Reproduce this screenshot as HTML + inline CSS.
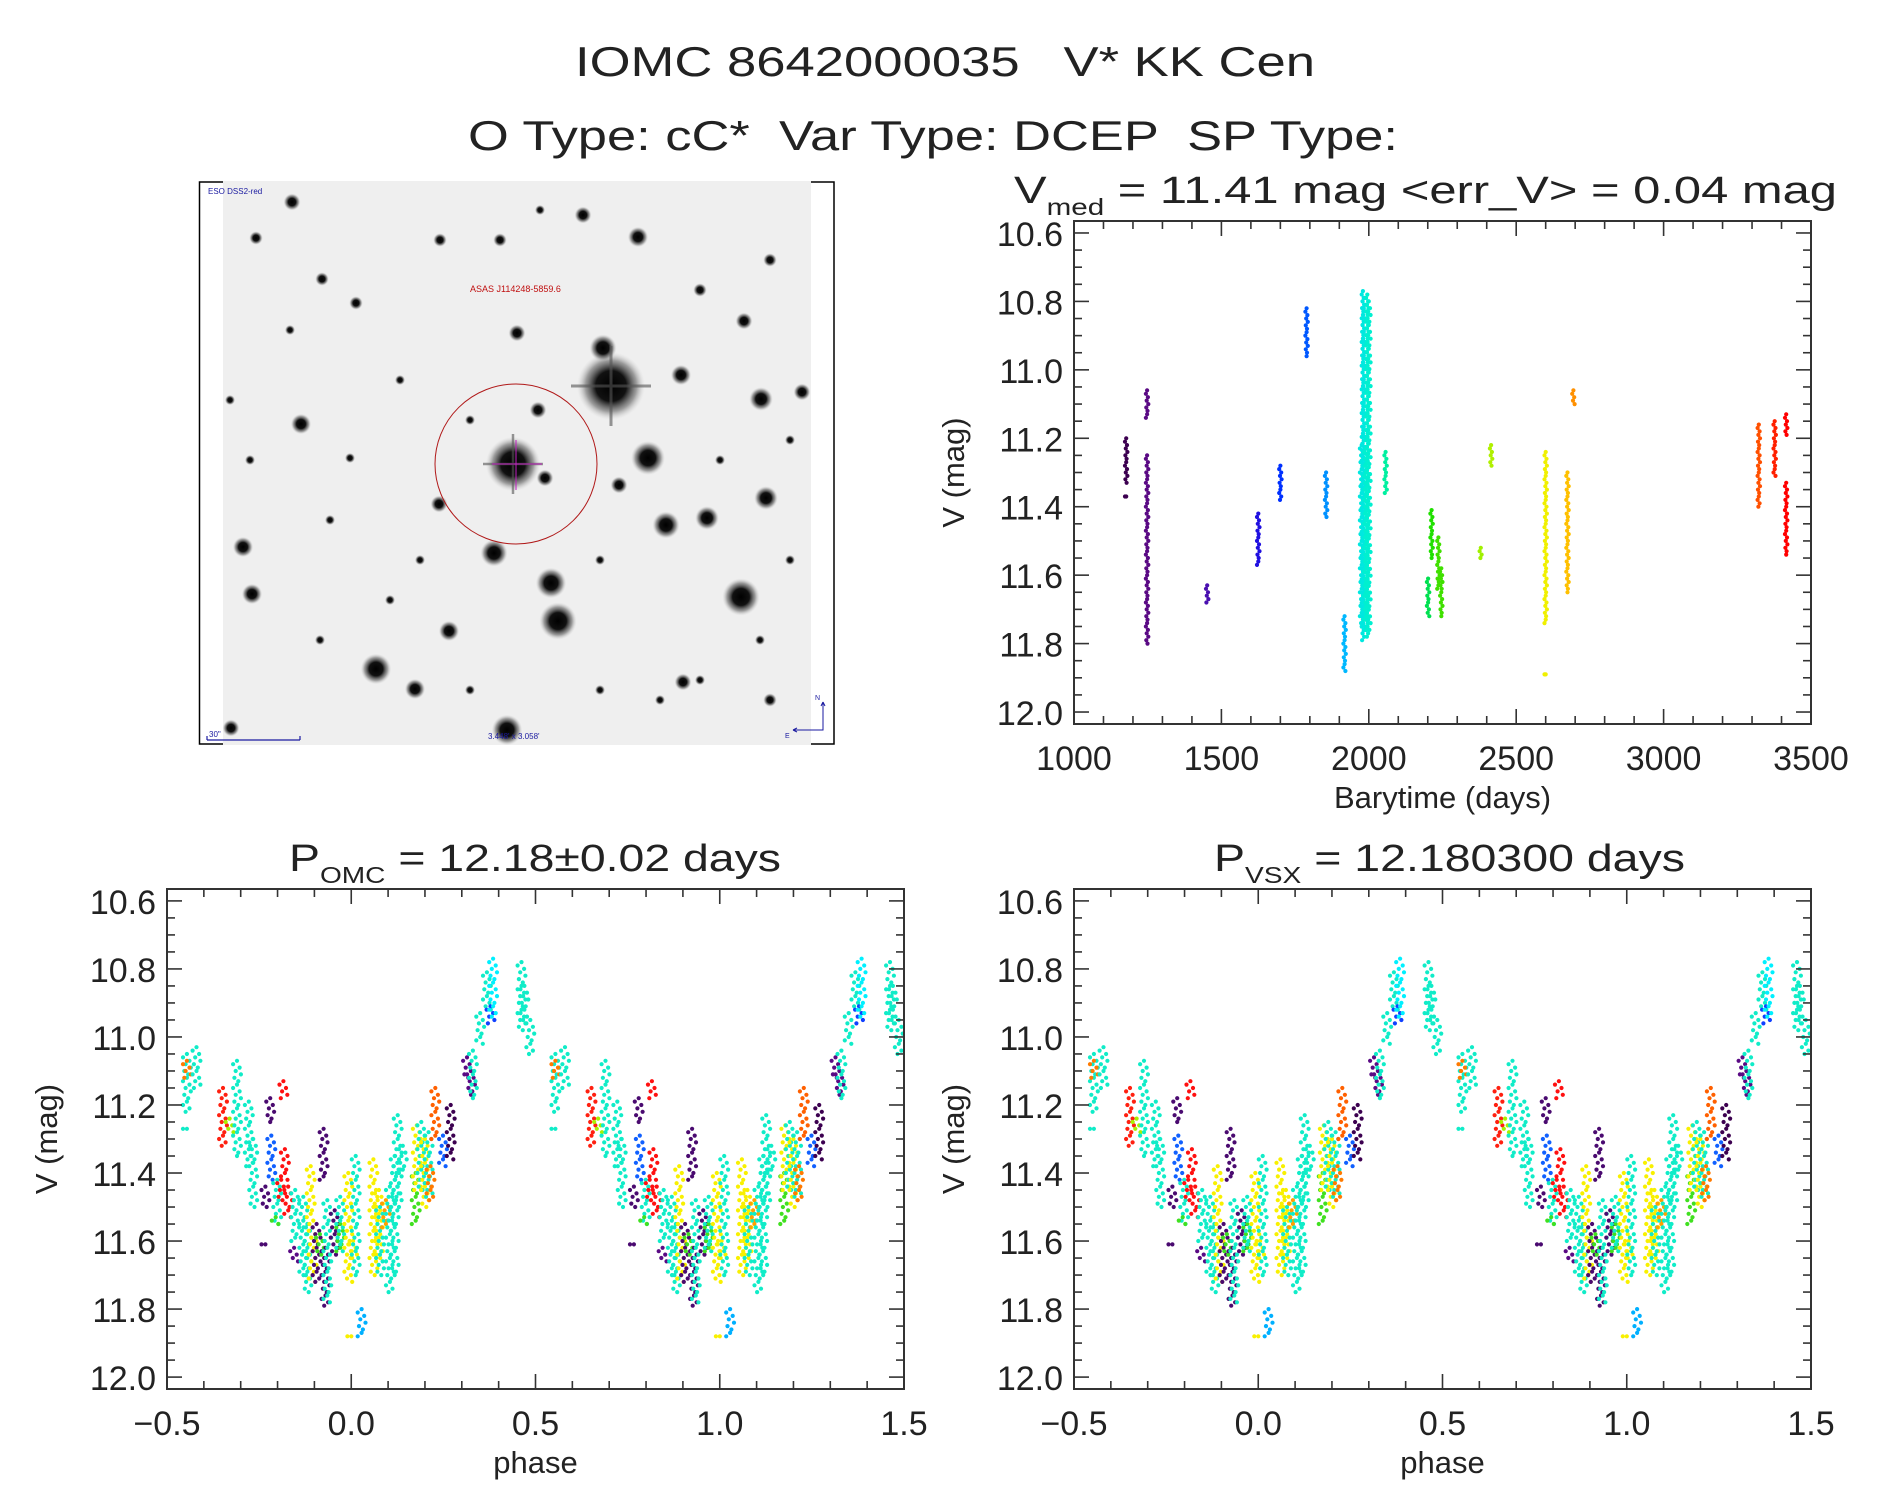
<!DOCTYPE html>
<html><head><meta charset="utf-8"><style>
html,body{margin:0;padding:0;background:#fff;}
svg{display:block;font-family:"Liberation Sans",sans-serif;}
text{white-space:pre;}
</style></head><body>
<svg id="fig" width="1889" height="1494" viewBox="0 0 1889 1494" xmlns="http://www.w3.org/2000/svg" xml:space="preserve">
<defs>
<radialGradient id="sg"><stop offset="0" stop-color="#000"/><stop offset="0.45" stop-color="#111"/><stop offset="0.75" stop-color="#777" stop-opacity="0.7"/><stop offset="1" stop-color="#ccc" stop-opacity="0"/></radialGradient>
</defs>
<rect width="1889" height="1494" fill="#fff"/>
<text x="575" y="76" textLength="740" lengthAdjust="spacingAndGlyphs" font-size="42" fill="#222">IOMC 8642000035   V* KK Cen</text>
<text x="468" y="150" textLength="930" lengthAdjust="spacingAndGlyphs" font-size="42" fill="#222">O Type: cC*  Var Type: DCEP  SP Type:</text>

<g>
  <rect x="199.5" y="182" width="634.5" height="562" fill="none" stroke="#000" stroke-width="1.5"/>
  <rect x="223" y="181" width="588" height="564" fill="#efefef"/>
  <g id="stars"></g>
  <text x="208" y="194" font-size="8" fill="#1a1aa0">ESO DSS2-red</text>
  <text x="470" y="292" font-size="9" fill="#c01010">ASAS J114248-5859.6</text>
  <ellipse cx="516" cy="464" rx="81" ry="80" fill="none" stroke="#b01818" stroke-width="1"/>
  <line x1="492" y1="464" x2="542" y2="464" stroke="#c020c0" stroke-width="1"/>
  <line x1="516" y1="440" x2="516" y2="490" stroke="#c020c0" stroke-width="1"/>
  <line x1="207" y1="740" x2="300" y2="740" stroke="#1a1aa0" stroke-width="1.2"/>
  <line x1="207" y1="736" x2="207" y2="740" stroke="#1a1aa0" stroke-width="1.2"/>
  <line x1="300" y1="736" x2="300" y2="740" stroke="#1a1aa0" stroke-width="1.2"/>
  <text x="209" y="737" font-size="8" fill="#1a1aa0">30"</text>
  <text x="488" y="739" font-size="8" fill="#1a1aa0">3.448' x 3.058'</text>
  <path d="M823 702 V730 H793 M823 702 l-2 4 M823 702 l2 4 M793 730 l4 -2 M793 730 l4 2" stroke="#1a1aa0" fill="none" stroke-width="1"/>
  <text x="815" y="700" font-size="7" fill="#1a1aa0">N</text>
  <text x="785" y="738" font-size="7" fill="#1a1aa0">E</text>
</g>
<g id="plots"></g>
</svg>
<script>
// ---------- data: light curve (time series), columns of observations ----------
const lcTimes  = [1177,1248,1248,1452,1625,1700,1789,1855,1918,1980,1995,2057,2201,2213,2236,2246,2380,2415,2600,2600,2674,2694,3323,3377,3416,3416,1177];
const lcTop    = [11.20,11.25,11.06,11.63,11.42,11.28,10.82,11.30,11.72,10.77,10.78,11.24,11.61,11.41,11.49,11.58,11.52,11.22,11.24,11.89,11.30,11.06,11.16,11.15,11.13,11.33,11.37];
const lcBottom = [11.33,11.80,11.14,11.68,11.57,11.38,10.96,11.43,11.88,11.79,11.78,11.36,11.72,11.55,11.64,11.72,11.55,11.28,11.74,11.89,11.65,11.10,11.40,11.31,11.19,11.54,11.37];
const lcColors = ['#3c0050','#5a0a84','#5a0a84','#4a10b0','#2010e0','#0030ff','#0058ff','#0090ff','#00b8ff','#00e8e0','#00f0d0','#00f0a0','#00e050','#20e000','#40e000','#40e000','#a0f000','#b0f000','#f0f000','#f0f000','#ffc000','#ff9000','#ff5000','#ff2000','#ff0000','#ff0000','#3c0050'];
// ---------- data: folded light curve columns (phase in [-0.5,0.5)) ----------
const phPhase  = [-0.446,-0.446,-0.446,-0.42,-0.348,-0.33,-0.31,-0.278,-0.266,-0.233,-0.233,-0.217,-0.22,-0.201,-0.205,-0.184,-0.18,-0.19,-0.171,-0.152,-0.155,-0.13,-0.119,-0.11,-0.105,-0.094,-0.085,-0.075,-0.07,-0.065,-0.045,-0.03,-0.03,-0.008,0.005,0.012,0.028,0.0,0.06,0.075,0.078,0.094,0.105,0.118,0.126,0.14,0.175,0.178,0.19,0.20,0.21,0.215,0.228,0.249,0.27,0.314,0.325,0.33,0.35,0.368,0.378,0.385,0.462,0.47,0.486];
const phTop    = [11.05,11.27,11.07,11.03,11.15,11.24,11.07,11.19,11.30,11.44,11.61,11.29,11.18,11.42,11.53,11.13,11.33,11.42,11.44,11.45,11.62,11.47,11.55,11.38,11.56,11.55,11.58,11.27,11.62,11.48,11.51,11.55,11.47,11.40,11.60,11.35,11.80,11.88,11.36,11.45,11.50,11.48,11.44,11.35,11.23,11.32,11.40,11.26,11.25,11.30,11.28,11.38,11.15,11.29,11.20,11.06,11.10,11.04,10.93,10.81,10.91,10.77,10.78,10.85,10.95];
const phBottom = [11.22,11.27,11.12,11.15,11.32,11.28,11.35,11.38,11.50,11.50,11.61,11.42,11.25,11.55,11.55,11.18,11.42,11.48,11.53,11.60,11.66,11.70,11.75,11.55,11.72,11.72,11.64,11.42,11.79,11.78,11.64,11.63,11.63,11.72,11.65,11.70,11.88,11.88,11.70,11.65,11.70,11.56,11.75,11.70,11.50,11.40,11.55,11.45,11.45,11.50,11.47,11.48,11.30,11.38,11.36,11.12,11.17,11.18,11.02,10.92,10.96,10.94,10.98,10.95,11.05];
const phColors = ['#10ecc8','#10ecc8','#ff7a00','#10ecc8','#ff2010','#a8f000','#10ecc8','#10ecc8','#10ecc8','#4a0a70','#4a0a70','#1060ff','#4a0a70','#10ecc8','#40e020','#ff1010','#ff1010','#ff1010','#ff1010','#10ecc8','#5a0a84','#10ecc8','#10ecc8','#f8f000','#f8f000','#4a0a70','#40e020','#4a0a70','#4a0a70','#10ecc8','#4a0a70','#40e020','#10ecc8','#f8f000','#f8f000','#10ecc8','#00b0ff','#f8f000','#f8f000','#f8f000','#10ecc8','#ffa000','#10ecc8','#10ecc8','#10ecc8','#10ecc8','#40e020','#f8f000','#10ecc8','#f8f000','#10ecc8','#ff7a00','#ff6000','#1060ff','#3c0050','#5a0a84','#5a0a84','#10ecc8','#10ecc8','#10ecc8','#1040ff','#00f0ff','#10ecc8','#10ecc8','#10ecc8'];
const yTickLabels = ['10.6','10.8','11.0','11.2','11.4','11.6','11.8','12.0'];
const tTickLabels = ['1000','1500','2000','2500','3000','3500'];
const pTickLabels = ['\u22120.5','0.0','0.5','1.0','1.5'];

const NS='http://www.w3.org/2000/svg';
const root=document.getElementById('plots');
function mk(tag,attrs,parent){const e=document.createElementNS(NS,tag);for(const k in attrs)e.setAttribute(k,attrs[k]);(parent||root).appendChild(e);return e;}

function panel(name,x0,x1,y0,y1,xmin,xmax,xMajor,xMinor,xLabels,xTitle,titleMain,titleSub,titleRest,titleX,titleW){
  const g=mk('g',{});
  
  
  const ymin=10.565,ymax=12.035;
  const sx=v=>x0+(v-xmin)/(xmax-xmin)*(x1-x0);
  const sy=v=>y0+(v-ymin)/(ymax-ymin)*(y1-y0);
  const pts=mk('g',{},g);
  
  
  const fr=mk('rect',{x:x0,y:y0,width:x1-x0,height:y1-y0,fill:'none',stroke:'#333','stroke-width':2},g);
  
  
  for(let i=0;i<=28;i++){const v=10.6+i*0.05;const y=sy(v);const L=(i%4===0)?15:8;
    mk('line',{x1:x0,y1:y,x2:x0+L,y2:y,stroke:'#333','stroke-width':1.6},g);
    mk('line',{x1:x1,y1:y,x2:x1-L,y2:y,stroke:'#333','stroke-width':1.6},g);}
  yTickLabels.forEach(s=>{const t=mk('text',{x:x0-11,y:sy(parseFloat(s))+13,'font-size':34,'text-anchor':'end',fill:'#222'},g);t.textContent=s;
    
    });
  const nMin=Math.round((xmax-xmin)/xMinor);
  for(let i=0;i<=nMin;i++){const v=xmin+i*xMinor;const x=sx(v);const isMaj=Math.abs((v-xmin)/xMajor-Math.round((v-xmin)/xMajor))<1e-6;const L=isMaj?15:8;
    mk('line',{x1:x,y1:y1,x2:x,y2:y1-L,stroke:'#333','stroke-width':1.6},g);
    mk('line',{x1:x,y1:y0,x2:x,y2:y0+L,stroke:'#333','stroke-width':1.6},g);}
  xLabels.forEach(s=>{const v=parseFloat(s.replace('\u2212','-'));const t=mk('text',{x:sx(v),y:y1+46,'font-size':34,'text-anchor':'middle',fill:'#222'},g);t.textContent=s;
    
    });
  const xt=mk('text',{x:(x0+x1)/2,y:y1+84,'font-size':31,'text-anchor':'middle',fill:'#222'},g);xt.textContent=xTitle;
  
  
  const cy=(y0+y1)/2;
  const yt=mk('text',{x:x0-110,y:cy,'font-size':31,'text-anchor':'middle',fill:'#222',transform:`rotate(-90 ${x0-110} ${cy})`},g);yt.textContent='V (mag)';
  
  
  const tt=mk('text',{x:titleX,y:y0-18,'font-size':38,fill:'#222',textLength:titleW,lengthAdjust:'spacingAndGlyphs'},g);
  
  
  const a=document.createElementNS(NS,'tspan');a.textContent=titleMain;tt.appendChild(a);
  const b=document.createElementNS(NS,'tspan');b.setAttribute('font-size','23');b.setAttribute('dy','12');b.textContent=titleSub;tt.appendChild(b);
  const c=document.createElementNS(NS,'tspan');c.setAttribute('dy','-12');c.textContent=titleRest;tt.appendChild(c);
  return {sx,sy,pts};
}
const jit=[0,-3,2,-1,3,-2,1];
function column(p,xv,top,bot,col,spread){
  const x=p.sx(xv),ya=p.sy(top),yb=p.sy(bot);
  const n=Math.max(1,Math.round((yb-ya)/3.4));
  for(let k=0;k<=n;k++){const y=ya+(yb-ya)*k/n;
    const c=mk('circle',{cx:(x+jit[k%7]*spread).toFixed(1),cy:y.toFixed(1),r:2.1,fill:col},p.pts);
    
    }
}
const lc=panel('light-curve-panel',1074,1811,221,724,1000,3500,500,100,tTickLabels,'Barytime (days)','V','med',' = 11.41 mag <err_V> = 0.04 mag',1014,823);
lcTimes.forEach((t,i)=>{column(lc,t,lcTop[i],lcBottom[i],lcColors[i],0.4);
  if(i===9||i===10){column(lc,t+5,lcTop[i]+0.02,lcBottom[i]-0.02,lcColors[i],0.6);column(lc,t-4,lcTop[i]+0.45,lcBottom[i]-0.05,lcColors[i],0.6);}});
function folded(name,x0,x1,main,sub,rest,tx,tw){
  const p=panel(name,x0,x1,889,1389,-0.5,1.5,0.5,0.1,pTickLabels,'phase',main,sub,rest,tx,tw);
  [0,1].forEach(off=>phPhase.forEach((ph,i)=>{const v=ph+off;if(v>=-0.5&&v<=1.5)column(p,v,phTop[i],phBottom[i],phColors[i],1.3);}));
}
folded('phase-omc-panel',167,904,'P','OMC',' = 12.18\u00b10.02 days',289,492);
folded('phase-vsx-panel',1074,1811,'P','VSX',' = 12.180300 days',1214,471);

const stars=document.getElementById('stars');
const starList=[[611,386,20],[513,464,16],[648,458,10],[741,597,11],[558,621,11],[551,583,9],[376,669,9],[494,553,8],[666,525,8],[707,518,7],[761,399,7],[766,498,7],[603,348,8],[638,237,6],[301,424,6],[252,594,6],[243,547,6],[415,689,6],[449,631,6],[744,321,5],[681,375,6],[683,682,5],[292,202,5],[583,215,5],[440,240,4],[322,279,4],[356,303,4],[517,333,5],[538,410,5],[545,478,5],[439,504,5],[619,485,5],[802,392,5],[507,730,9],[231,728,5],[256,238,4],[350,458,3],[330,520,3],[390,600,3],[470,690,3],[600,690,3],[700,680,3],[760,640,3],[790,560,3],[720,460,3],[700,290,4],[770,260,4],[400,380,3],[290,330,3],[250,460,3],[420,560,3],[500,240,4],[540,210,3],[770,700,4],[320,640,3],[660,700,3],[600,560,3],[230,400,3],[470,420,3],[790,440,3]];
starList.forEach(([x,y,r])=>{
  mk('circle',{cx:x,cy:y,r:r*1.7,fill:'url(#sg)'},stars);
});
mk('path',{d:'M571 386 H651 M611 346 V426',stroke:'#555','stroke-width':3,opacity:0.6},stars);
mk('path',{d:'M483 464 H543 M513 434 V494',stroke:'#555','stroke-width':2.5,opacity:0.6},stars);
</script>
</body></html>
